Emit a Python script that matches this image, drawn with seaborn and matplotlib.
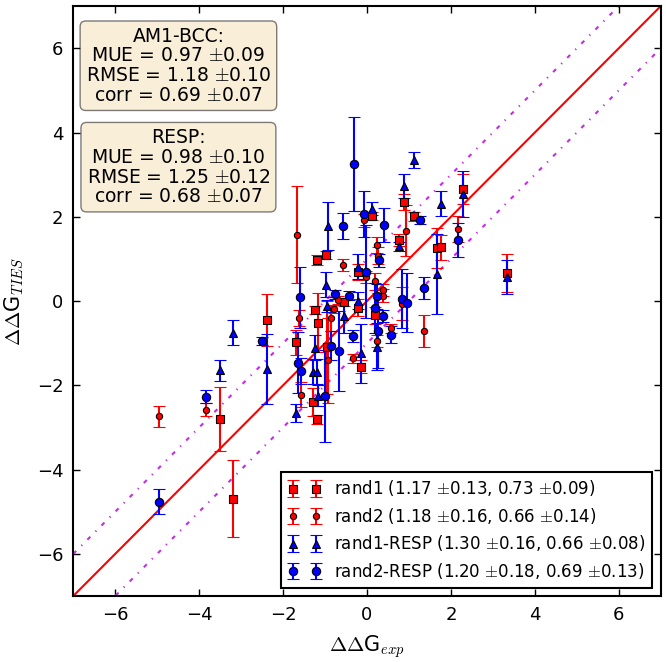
import numpy as np
import matplotlib
matplotlib.use("Agg")
import matplotlib.pyplot as plt
import seaborn as sns

# rand1 (red squares)
rand1_x = [2.30, 0.89, 0.12, 1.12, 0.76, 1.68, 1.76, -1.18, -0.98, 3.33, -0.22, -0.55,
           -1.25, -1.16, -2.38, -1.70, -0.22, 0.20, -0.14, -0.96, -1.28, -1.18, -3.51, -3.20]
rand1_y = [2.66, 2.35, 2.02, 2.01, 1.45, 1.26, 1.28, 0.97, 1.10, 0.67, 0.69, -0.02,
           -0.21, -0.52, -0.45, -0.98, -0.16, -0.34, -1.56, -1.10, -2.39, -2.81, -2.80, -4.69]
rand1_err = [0.35, 0.20, 0.10, 0.10, 0.15, 0.48, 0.30, 0.12, 0.10, 0.45, 0.20, 0.10,
             0.10, 0.70, 0.62, 0.30, 0.20, 0.20, 0.15, 1.10, 0.33, 0.10, 0.75, 0.92]

# rand2 (red circles)
rand2_x = [-1.66, -0.57, -0.07, 0.94, 0.24, 0.27, 2.17, -0.02, 0.20, 0.39, 0.39, -0.68,
           -1.62, -0.86, -0.79, 0.84, 0.57, 1.36, 0.25, -0.33, -0.92, -1.57, -3.84, -4.95]
rand2_y = [1.58, 0.86, 1.92, 1.67, 1.33, 1.08, 1.71, 0.57, 0.47, 0.26, 0.13, 0.03,
           -0.40, -0.41, -0.19, -0.06, -0.65, -0.71, -0.95, -1.36, -1.41, -2.22, -2.58, -2.73]
rand2_err = [1.15, 0.15, 0.15, 0.60, 0.20, 0.20, 0.30, 0.15, 0.20, 0.15, 0.15, 0.10,
             0.20, 0.30, 0.10, 0.40, 0.10, 0.37, 0.15, 0.10, 1.00, 0.30, 0.15, 0.25]

# rand1-RESP (blue triangles)
resp1_x = [1.12, 0.89, 1.76, 2.30, 0.12, -0.93, 0.76, 1.68, 3.33, -0.22, -0.98, -0.22,
           -0.95, -0.55, 0.24, -0.14, -1.24, -1.28, -1.18, -1.16, -2.38, -1.70, -3.50, -3.20]
resp1_y = [3.35, 2.73, 2.31, 2.54, 2.19, 1.78, 1.30, 0.65, 0.57, 0.82, 0.39, 0.01,
           -0.12, -0.35, -1.08, -1.24, -1.11, -1.68, -1.68, -2.25, -1.61, -2.66, -1.64, -0.75]
resp1_err = [0.20, 0.28, 0.30, 0.55, 0.15, 0.56, 0.10, 0.95, 0.40, 0.30, 0.30, 0.20,
             0.15, 0.40, 0.55, 0.70, 0.30, 0.30, 0.30, 0.25, 0.84, 0.22, 0.25, 0.30]

# rand2-RESP (blue circles)
resp2_x = [-0.32, -0.06, 0.40, -0.56, 1.27, 0.28, -0.02, 2.17, -1.60, -0.77, -0.43, 0.25,
           0.84, 0.95, 1.37, 0.20, 0.39, 0.26, 0.57, -0.33, -2.51, -0.85, -0.66, -1.65,
           -1.57, -1.00, -3.84, -4.95]
resp2_y = [3.25, 2.06, 1.80, 1.78, 1.93, 0.97, 0.70, 1.45, 0.09, 0.16, 0.13, 0.11,
           0.06, -0.04, 0.31, -0.16, -0.35, -0.70, -0.80, -0.83, -0.95, -1.06, -1.18, -1.46,
           -1.66, -2.25, -2.27, -4.76]
resp2_err = [1.12, 0.55, 0.40, 0.30, 0.10, 0.15, 1.10, 0.40, 0.72, 0.10, 0.10, 0.30,
             0.70, 0.70, 0.25, 0.60, 0.15, 0.90, 0.20, 0.15, 0.10, 0.35, 0.95, 0.72,
             0.30, 1.10, 0.15, 0.30]

labels = ["rand1 (1.17 $\\pm$0.13, 0.73 $\\pm$0.09)",
          "rand2 (1.18 $\\pm$0.16, 0.66 $\\pm$0.14)",
          "rand1-RESP (1.30 $\\pm$0.16, 0.66 $\\pm$0.08)",
          "rand2-RESP (1.20 $\\pm$0.18, 0.69 $\\pm$0.13)"]

box1 = "AM1-BCC:\nMUE = 0.97 $\\pm$0.09\nRMSE = 1.18 $\\pm$0.10\ncorr = 0.69 $\\pm$0.07"
box2 = "RESP:\nMUE = 0.98 $\\pm$0.10\nRMSE = 1.25 $\\pm$0.12\ncorr = 0.68 $\\pm$0.07"

diag = np.array([-7.0, 7.0])

sns.set_style("ticks", {"xtick.direction": "in", "ytick.direction": "in",
                        "xtick.top": True, "ytick.right": True,
                        "axes.edgecolor": "black"})
plt.rcParams["font.family"] = ["DejaVu Sans"]
plt.rcParams["mathtext.fontset"] = "cm"
plt.rcParams["axes.linewidth"] = 1.5
for k in ["text.color", "axes.labelcolor", "xtick.color", "ytick.color"]:
    plt.rcParams[k] = "black"

fig = plt.figure(figsize=(6.66, 6.62), dpi=100)
ax = fig.add_axes([0.11, 0.0997, 0.882, 0.891])

mag = "#c828ec"
sns.lineplot(x=diag, y=diag, color="red", lw=1.5, ax=ax, zorder=1)
sns.lineplot(x=diag, y=diag + 1, color=mag, lw=1.5, ax=ax, zorder=1)
sns.lineplot(x=diag, y=diag - 1, color=mag, lw=1.5, ax=ax, zorder=1)
for l in ax.lines[1:3]:
    l.set_dashes([2, 3.5, 0.6, 3.5])

series = [
    (rand1_x, rand1_y, rand1_err, "s", 5.5, "red"),
    (rand2_x, rand2_y, rand2_err, "o", 4.5, "red"),
    (resp1_x, resp1_y, resp1_err, "^", 6, "blue"),
    (resp2_x, resp2_y, resp2_err, "o", 6, "blue"),
]
for (sx, sy, se, mk, ms, col), lab in zip(series, labels):
    ax.errorbar(sx, sy, yerr=se, fmt=mk, ms=ms, color=col, mfc=col, mec="black",
                mew=0.8, ecolor=col, elinewidth=1.5, capsize=4, capthick=1.5,
                label=lab, zorder=3)

ax.set_xlim(-7, 7)
ax.set_ylim(-7, 7)
ax.set_xticks([-6, -4, -2, 0, 2, 4, 6])
ax.set_yticks([-6, -4, -2, 0, 2, 4, 6])
ax.tick_params(labelsize=13, length=5, width=1, pad=7)
ax.set_xlabel("$\\Delta\\Delta$G$_{exp}$", fontsize=15, labelpad=7)
ax.set_ylabel("$\\Delta\\Delta$G$_{TIES}$", fontsize=15, labelpad=8)

bbox = dict(boxstyle="round,pad=0.3", facecolor="wheat", alpha=0.5, edgecolor="black")
ax.text(0.179, 0.899, box1, transform=ax.transAxes, fontsize=13.5, ha="center",
        va="center", multialignment="center", linespacing=1.05, bbox=bbox)
ax.text(0.179, 0.727, box2, transform=ax.transAxes, fontsize=13.5, ha="center",
        va="center", multialignment="center", linespacing=1.05, bbox=bbox)

leg = ax.legend(loc="lower right", numpoints=2, fontsize=12, fancybox=False,
                handlelength=2, framealpha=1, labelspacing=0.45)
leg.get_frame().set_edgecolor("black")
leg.get_frame().set_linewidth(1.5)

fig.savefig("out.png", dpi=100)
